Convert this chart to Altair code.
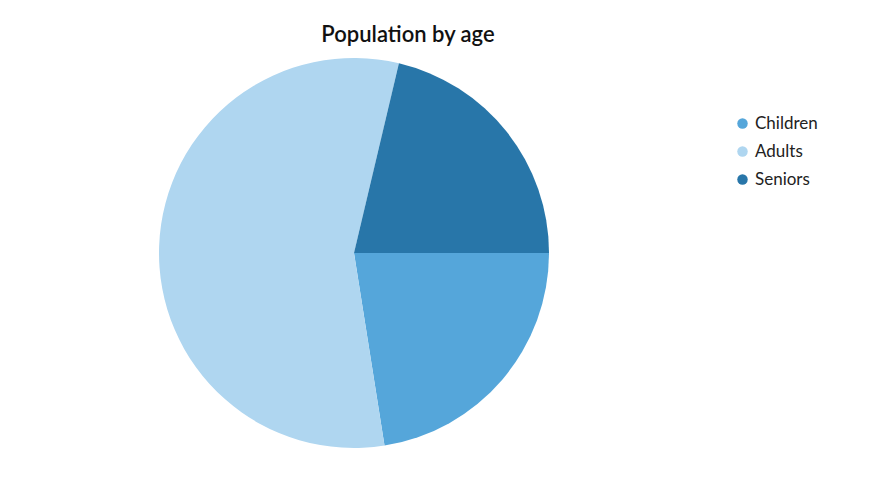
import math
import altair as alt
import pandas as pd

categories = ["Children", "Adults", "Seniors"]
values = [22.5, 56.2, 21.3]
colors = ["#55a6da", "#afd6f0", "#2876a9"]

df = pd.DataFrame({"group": categories, "value": values, "idx": list(range(len(categories)))})

chart = alt.Chart(df).mark_arc(outerRadius=195, stroke=None).encode(
    theta=alt.Theta("value:Q", stack=True,
                    scale=alt.Scale(range=[math.pi / 2, math.pi / 2 + 2 * math.pi])),
    color=alt.Color("group:N", sort=categories,
                    scale=alt.Scale(domain=categories, range=colors),
                    legend=alt.Legend(title=None, orient="none", legendX=726, legendY=57,
                                      labelFontSize=17, labelFont="Lato", labelColor="#222",
                                      labelOffset=4, labelLimit=200,
                                      symbolType="circle", symbolSize=110, rowPadding=10,
                                      symbolStrokeWidth=0)),
    order=alt.Order("idx:Q"),
    x=alt.value(346),
    y=alt.value(195),
).properties(
    width=800,
    height=411,
    title=alt.TitleParams("Population by age", font="Lato", fontSize=22, fontWeight=600,
                          color="#111", anchor="middle", offset=11),
    autosize=alt.AutoSizeParams(type="none"),
    padding={"top": 50, "left": 0, "right": 56, "bottom": 0},
).configure_view(stroke=None)

chart.save("out.html", embed_options={"renderer": "svg", "actions": False})
